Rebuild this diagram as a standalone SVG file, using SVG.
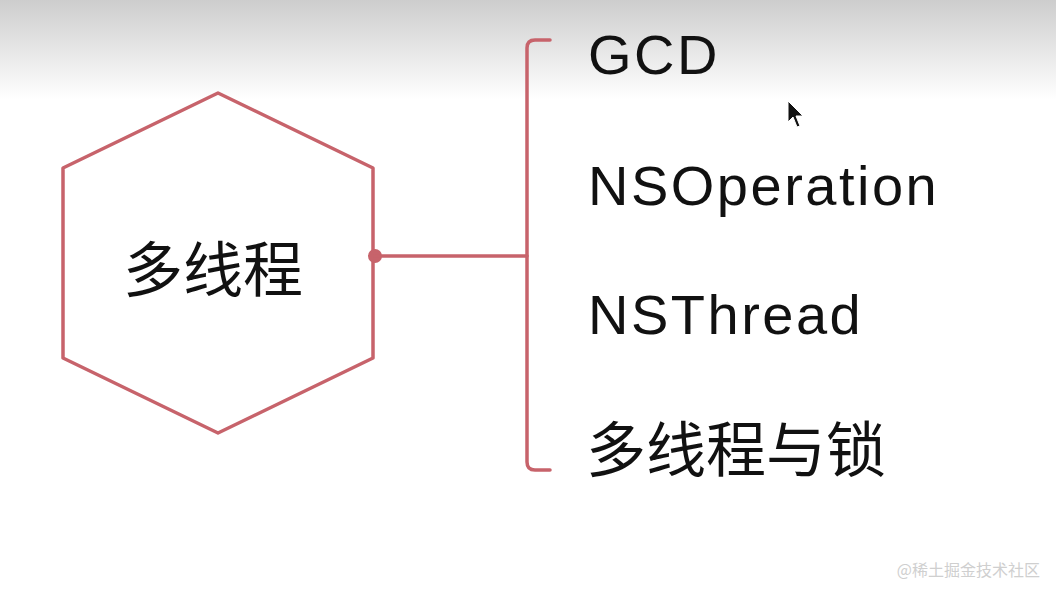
<svg xmlns="http://www.w3.org/2000/svg" width="1056" height="596" viewBox="0 0 1056 596">
<defs>
<linearGradient id="bg" x1="0" y1="0" x2="0" y2="1">
<stop offset="0" stop-color="#cdcdcd"/><stop offset="1" stop-color="#ffffff"/>
</linearGradient>
</defs>
<style>
.ln{fill:none;stroke:#c7636b;stroke-width:3.5;stroke-linejoin:round;stroke-linecap:round}
.t{font-family:"Liberation Sans","Noto Sans CJK SC",sans-serif;fill:#111;font-size:56px;letter-spacing:2.5px}
.c{font-family:"Noto Sans CJK SC",sans-serif;fill:#111;font-size:60px}
</style>
<rect width="1056" height="596" fill="#fff"/>
<rect width="1056" height="100" fill="url(#bg)"/>
<g id="hub">
<polygon class="ln" fill="#fff" points="218,93 373,168 373,358 218,433 63,358 63,168"/>
<text class="c" x="213" y="292" font-size="66" text-anchor="middle">多线程</text>
</g>
<g id="connectors">
<circle cx="375" cy="256" r="7" fill="#c7636b"/>
<line class="ln" x1="375" y1="256" x2="527" y2="256"/>
<path class="ln" d="M550,40 H535 Q527,40 527,48 V462 Q527,470 535,470 H550"/>
</g>
<g id="n1"><text class="t" x="588" y="74">GCD</text></g>
<g id="n2"><text class="t" x="588" y="205">NSOperation</text></g>
<g id="n3"><text class="t" x="588" y="334">NSThread</text></g>
<g id="n4"><text class="c" x="586" y="472">多线程与锁</text></g>
<polygon points="788,101 788,122 793,117 797,127 800,126 796,116 803,116" fill="#111" stroke="#fff" stroke-width="1"/>
<text x="1040" y="576" text-anchor="end" font-family="'Noto Sans CJK SC',sans-serif" font-size="16" fill="#cfcfcf">@稀土掘金技术社区</text>
</svg>
